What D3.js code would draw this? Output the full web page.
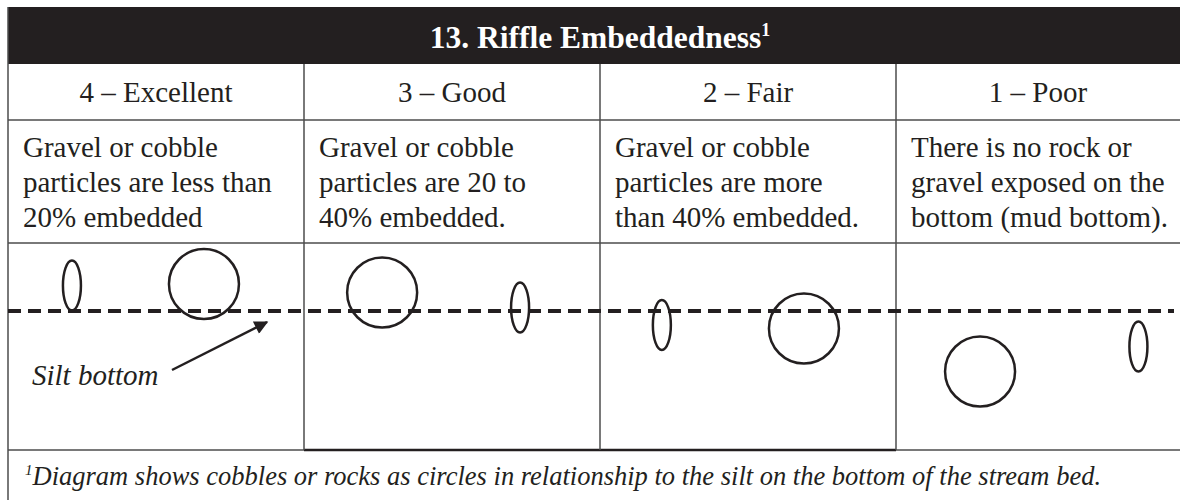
<!DOCTYPE html>
<html>
<head>
<meta charset="utf-8">
<script src="https://cdn.jsdelivr.net/npm/d3@7"></script>
<style>
  html, body { margin: 0; padding: 0; background: #fff; }
  svg { display: block; }
</style>
</head>
<body>
<div id="chart"></div>
<script>
const title = '13. Riffle Embeddedness';
const columns = ['4 – Excellent', '3 – Good', '2 – Fair', '1 – Poor'];
const descriptions = [
  ['Gravel or cobble', 'particles are less than', '20% embedded'],
  ['Gravel or cobble', 'particles are 20 to', '40% embedded.'],
  ['Gravel or cobble', 'particles are more', 'than 40% embedded.'],
  ['There is no rock or', 'gravel exposed on the', 'bottom (mud bottom).']
];
// rock centres: fraction across the column, and depth below the silt line
const smallRockPos = [0.216, 0.730, 0.209, 0.819];
const smallRockDepth = [-25.5, -3.5, 14, 35.5];
const largeRockPos = [0.662, 0.264, 0.689, 0.284];
const largeRockDepth = [-27, -18.5, 17.5, 60.5];
const siltLabel = 'Silt bottom';
const footnote = 'Diagram shows cobbles or rocks as circles in relationship to the silt on the bottom of the stream bed.';

const W = 1180, H = 500;
const ink = '#231f20', grid = '#4d4d4d';
const serif = '"Liberation Serif", "Times New Roman", serif';

const rows = { top: 7, head: 64, desc: 120, diag: 243, foot: 450 };
const siltY = 311;

const svg = d3.select('#chart').append('svg')
  .attr('width', W).attr('height', H);

const x = d3.scaleBand().domain(columns).range([8, 1192]);
const pos = d3.scaleLinear().domain([0, 1]).range([0, x.bandwidth()]);
const depth = d3.scaleLinear().domain([0, 100]).range([siltY, siltY + 100]);

// title band
svg.append('rect')
  .attr('x', 8).attr('y', rows.top)
  .attr('width', W - 8).attr('height', rows.head - rows.top)
  .attr('fill', ink);

const t = svg.append('text')
  .attr('x', 600).attr('y', 48)
  .attr('text-anchor', 'middle')
  .attr('fill', '#fff')
  .attr('font-family', serif)
  .attr('font-weight', 'bold')
  .attr('font-size', '31.5px');
t.append('tspan').text(title);
t.append('tspan').text('1').attr('font-size', '18px').attr('dy', -12);

// grid lines
const hLines = [rows.desc, rows.diag, rows.foot];
svg.selectAll('line.h')
  .data(hLines)
  .join('line')
  .attr('class', 'h')
  .attr('x1', 8).attr('x2', W)
  .attr('y1', d => d).attr('y2', d => d)
  .attr('stroke', grid).attr('stroke-width', 1.5);

// darker middle segment on the footnote rule
svg.append('line')
  .attr('x1', x(columns[1])).attr('x2', x(columns[3]))
  .attr('y1', rows.foot).attr('y2', rows.foot)
  .attr('stroke', ink).attr('stroke-width', 2.5);

svg.append('line')
  .attr('x1', 8).attr('x2', 8)
  .attr('y1', rows.top).attr('y2', H)
  .attr('stroke', grid).attr('stroke-width', 1.5);

svg.selectAll('line.v')
  .data(columns.slice(1))
  .join('line')
  .attr('class', 'v')
  .attr('x1', d => x(d)).attr('x2', d => x(d))
  .attr('y1', rows.head).attr('y2', rows.foot)
  .attr('stroke', grid).attr('stroke-width', 1.5);

// column headers
const headCx = d => Math.min(x(d) + x.bandwidth() / 2, (x(d) + W) / 2);
svg.selectAll('text.head')
  .data(columns)
  .join('text')
  .attr('class', 'head')
  .attr('x', headCx)
  .attr('y', 102)
  .attr('text-anchor', 'middle')
  .attr('fill', ink)
  .attr('font-family', serif)
  .attr('font-size', '29px')
  .text(d => d);

// descriptions
const desc = svg.selectAll('text.desc')
  .data(descriptions)
  .join('text')
  .attr('class', 'desc')
  .attr('fill', ink)
  .attr('font-family', serif)
  .attr('font-size', '29px');
desc.selectAll('tspan')
  .data((d, i) => d.map(s => ({ s, i })))
  .join('tspan')
  .attr('x', d => x(columns[d.i]) + 15)
  .attr('y', (d, j) => 157 + j * 35)
  .text(d => d.s);

// silt line
svg.append('line')
  .attr('x1', 8).attr('x2', 1174)
  .attr('y1', siltY).attr('y2', siltY)
  .attr('stroke', ink)
  .attr('stroke-width', 4)
  .attr('stroke-dasharray', '13 7');

// rocks
const rockStroke = { fill: 'none', stroke: ink, 'stroke-width': 2.5 };
const small = svg.selectAll('ellipse.small')
  .data(columns)
  .join('ellipse')
  .attr('class', 'small')
  .attr('cx', (d, i) => x(d) + pos(smallRockPos[i]))
  .attr('cy', (d, i) => depth(smallRockDepth[i]))
  .attr('rx', 9).attr('ry', 25);
const large = svg.selectAll('circle.large')
  .data(columns)
  .join('circle')
  .attr('class', 'large')
  .attr('cx', (d, i) => x(d) + pos(largeRockPos[i]))
  .attr('cy', (d, i) => depth(largeRockDepth[i]))
  .attr('r', 35);
[small, large].forEach(sel => Object.entries(rockStroke).forEach(([k, v]) => sel.attr(k, v)));

// silt label with arrow
svg.append('defs').append('marker')
  .attr('id', 'head')
  .attr('viewBox', '0 0 10 10')
  .attr('refX', 9).attr('refY', 5)
  .attr('markerWidth', 6.5).attr('markerHeight', 5.5)
  .attr('markerUnits', 'strokeWidth')
  .attr('orient', 'auto')
  .append('path')
  .attr('d', 'M0,0 L10,5 L0,10 Z')
  .attr('fill', ink);

svg.append('line')
  .attr('x1', 172).attr('y1', 370)
  .attr('x2', 267).attr('y2', 322)
  .attr('stroke', ink).attr('stroke-width', 2.5)
  .attr('marker-end', 'url(#head)');

svg.append('text')
  .attr('x', 32).attr('y', 385)
  .attr('fill', ink)
  .attr('font-family', serif)
  .attr('font-style', 'italic')
  .attr('font-size', '29px')
  .text(siltLabel);

// footnote
const fn = svg.append('text')
  .attr('x', 25).attr('y', 485)
  .attr('fill', ink)
  .attr('font-family', serif)
  .attr('font-style', 'italic')
  .attr('font-size', '26.5px');
fn.append('tspan').text('1').attr('font-size', '15px').attr('dy', -10);
fn.append('tspan').text(footnote).attr('dy', 10);
</script>
</body>
</html>
